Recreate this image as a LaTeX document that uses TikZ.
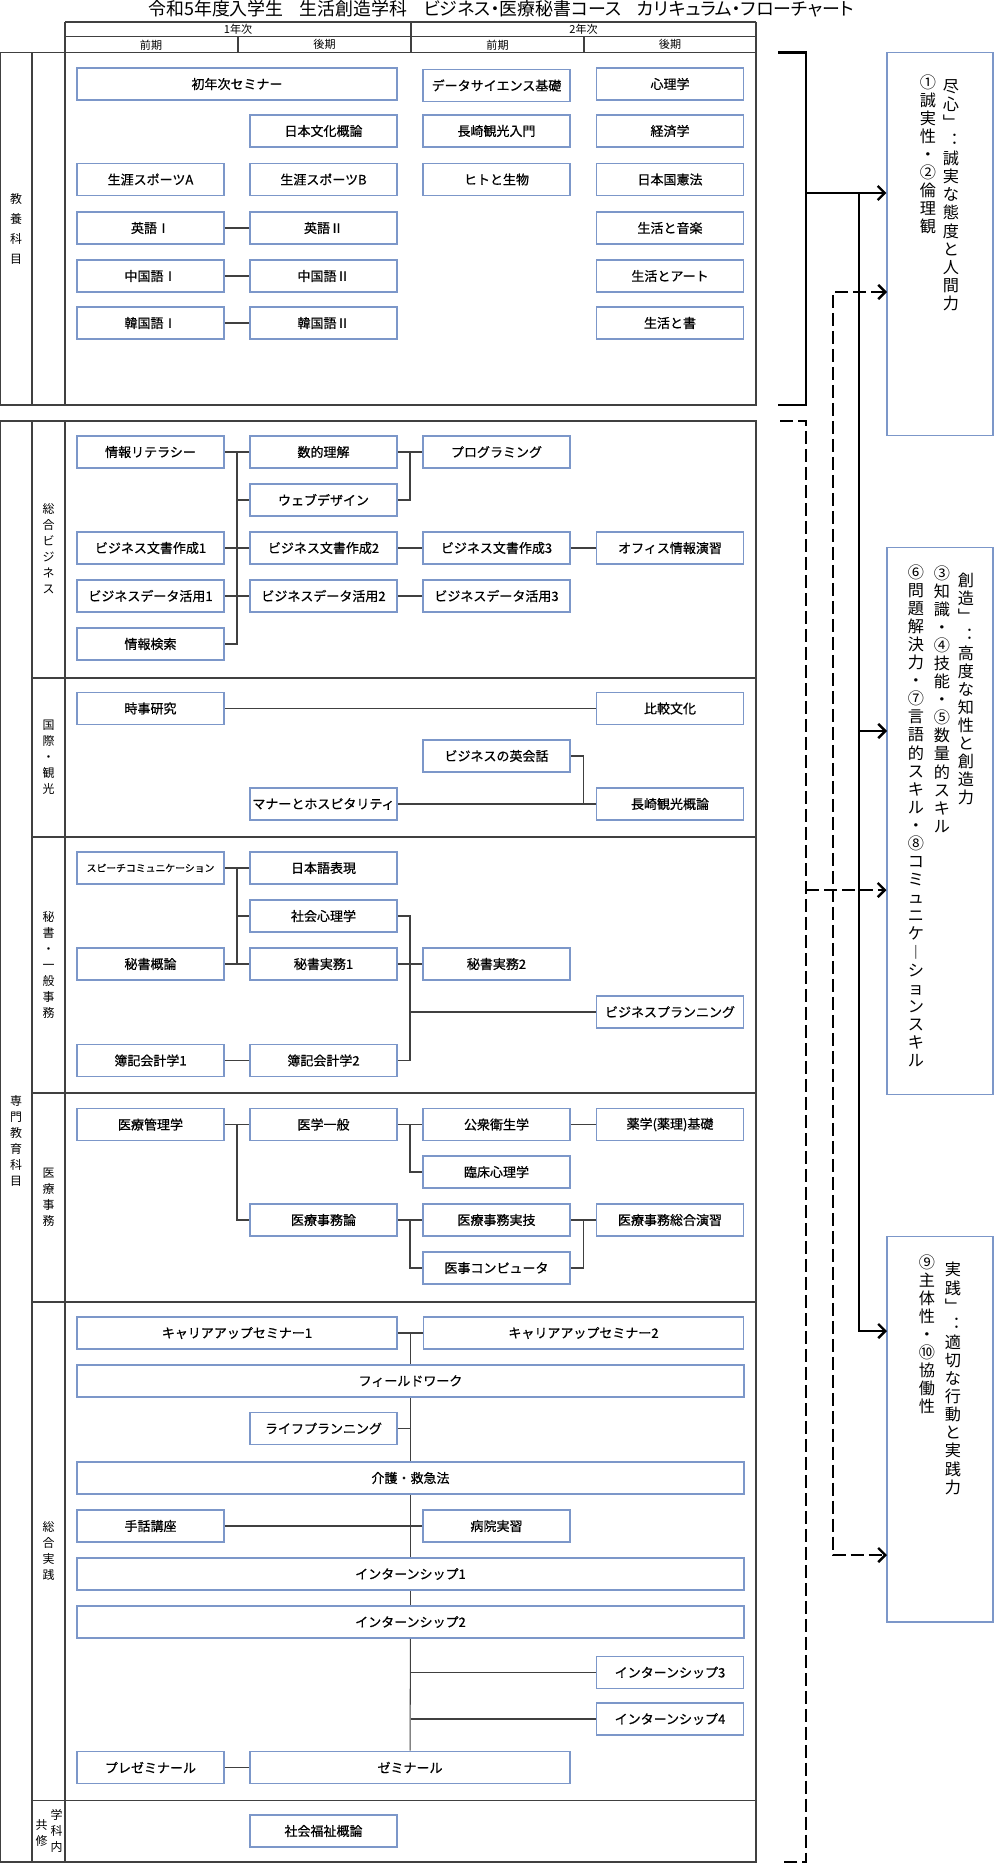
\documentclass[tikz,border=0pt]{standalone}
\usepackage{fontspec}
\setmainfont{Noto Sans CJK JP}
\newfontfamily\titlefont{Noto Sans CJK JP}[RawFeature=+palt]
\newfontfamily\coursefont{Noto Sans CJK JP}[FakeBold=0.7]
\usetikzlibrary{arrows.meta,calc}
\definecolor{boxblue}{RGB}{124,151,201}
\definecolor{rulegray}{RGB}{64,64,64}

\begin{document}
\begin{tikzpicture}[x=0.02cm, y=-0.02cm,
	>={Straight Barb[length=4pt,width=8pt]},
	course/.style={draw=boxblue, line width=0.9pt, minimum width=2.94cm, minimum height=0.64cm, inner sep=0pt, font=\coursefont\fontsize{7.4}{8}\selectfont},
	wide/.style={course, minimum width=6.4cm},
	full/.style={course, minimum width=13.34cm},
	link/.style={draw=black!75, line width=0.6pt},
	frame/.style={draw=rulegray, line width=0.9pt},
	sect/.style={align=center, inner sep=0pt, font=\fontsize{6.8}{9.1}\selectfont},
	hdr/.style={inner sep=0pt, font=\fontsize{6.3}{7}\selectfont},
	goal/.style={draw=boxblue, line width=0.6pt, minimum width=2.12cm, inner sep=0pt},
	goaltext/.style={anchor=north, align=center, inner sep=0pt, font=\fontsize{9.2}{10.3}\selectfont},
	bracket/.style={line width=1.4pt},
	dashline/.style={line width=1.4pt, dash pattern=on 0.26cm off 0.1cm}]
	\useasboundingbox (0,0) rectangle (1000,1875);

	% title and header
	\node[inner sep=0pt, font=\titlefont\fontsize{10.2}{12}\selectfont] (title) at (501,9) {令和5年度入学生\hspace{0.9em}生活創造学科\hspace{0.9em}ビジネス・医療秘書コース\hspace{0.9em}カリキュラム・フローチャート};
	\draw[frame] (65,22) -- (756,22);
	\draw[frame] (65,36.5) -- (756,36.5);
	\draw[frame] (65,22) -- (65,52.7);
	\draw[frame] (411,22) -- (411,52.7);
	\draw[frame] (756,22) -- (756,52.7);
	\draw[frame] (238,36.5) -- (238,52.7);
	\draw[frame] (584,36.5) -- (584,52.7);
	\node[hdr] (y1) at (238,29.5) {1年次};
	\node[hdr] (y2) at (583.5,29.5) {2年次};
	\node[hdr] (y1a) at (151,44.8) {前期};
	\node[hdr] (y1b) at (324.5,44.8) {後期};
	\node[hdr] (y2a) at (497.5,44.8) {前期};
	\node[hdr] (y2b) at (670,44.8) {後期};

	% frames
	\draw[frame] (0.5,52.7) rectangle (756,405);
	\draw[frame] (32,52.7) -- (32,405);
	\draw[frame] (65,52.7) -- (65,405);
	\draw[frame] (0.5,421) rectangle (756,1862);
	\draw[frame] (32,421) -- (32,1862);
	\draw[frame] (65,421) -- (65,1862);
	\draw[frame] (32,678) -- (756,678);
	\draw[frame] (32,837) -- (756,837);
	\draw[frame] (32,1093) -- (756,1093);
	\draw[frame] (32,1302) -- (756,1302);
	\draw[frame] (32,1800.5) -- (756,1800.5);

	\node[sect, font=\fontsize{6.8}{11.4}\selectfont] (lkyoyo) at (16,229) {教\\養\\科\\目};
	\node[sect] (lsenmon) at (16,1141) {専\\門\\教\\育\\科\\目};
	\node[sect] (lbiz) at (48.5,549) {総\\合\\ビ\\ジ\\ネ\\ス};
	\node[sect] (lkokusai) at (48.5,757) {国\\際\\・\\観\\光};
	\node[sect] (lhisho) at (48.5,965) {秘\\書\\・\\一\\般\\事\\務};
	\node[sect] (liryo) at (48.5,1197) {医\\療\\事\\務};
	\node[sect] (ljissen) at (48.5,1551) {総\\合\\実\\践};
	\node[sect] (lgakka) at (56.5,1831) {学\\科\\内};
	\node[sect] (lkyoshu) at (41.5,1833) {共\\修};

	% kyoyo
	\node[wide] (shonen) at (237,84) {初年次セミナー};
	\node[course] (dsci) at (496.5,85.5) {データサイエンス基礎};
	\node[course] (shinri) at (670,84) {心理学};
	\node[course] (bunka) at (323.5,131) {日本文化概論};
	\node[course] (nyumon) at (496.5,131) {長崎観光入門};
	\node[course] (keizai) at (670,131) {経済学};
	\node[course] (sportA) at (150.5,179.5) {生涯スポーツA};
	\node[course] (sportB) at (323.5,179.5) {生涯スポーツB};
	\node[course] (hito) at (496.5,179.5) {ヒトと生物};
	\node[course] (kenpo) at (670,179.5) {日本国憲法};
	\node[course] (eigoI) at (150.5,228) {英語Ⅰ};
	\node[course] (eigoII) at (323.5,228) {英語Ⅱ};
	\node[course] (ongaku) at (670,228) {生活と音楽};
	\node[course] (chugokuI) at (150.5,276) {中国語Ⅰ};
	\node[course] (chugokuII) at (323.5,276) {中国語Ⅱ};
	\node[course] (art) at (670,276) {生活とアート};
	\node[course] (kankokuI) at (150.5,323) {韓国語Ⅰ};
	\node[course] (kankokuII) at (323.5,323) {韓国語Ⅱ};
	\node[course] (sho) at (670,323) {生活と書};
	\draw[link] (eigoI) -- (eigoII);
	\draw[link] (chugokuI) -- (chugokuII);
	\draw[link] (kankokuI) -- (kankokuII);

	% sogo business
	\node[course] (literacy) at (150.5,452) {情報リテラシー};
	\node[course] (suteki) at (323.5,452) {数的理解};
	\node[course] (program) at (496.5,452) {プログラミング};
	\node[course] (web) at (323.5,500) {ウェブデザイン};
	\node[course] (bunsho1) at (150.5,548) {ビジネス文書作成1};
	\node[course] (bunsho2) at (323.5,548) {ビジネス文書作成2};
	\node[course] (bunsho3) at (496.5,548) {ビジネス文書作成3};
	\node[course] (office) at (670,548) {オフィス情報演習};
	\node[course] (katsuyo1) at (150.5,596) {ビジネスデータ活用1};
	\node[course] (katsuyo2) at (323.5,596) {ビジネスデータ活用2};
	\node[course] (katsuyo3) at (496.5,596) {ビジネスデータ活用3};
	\node[course] (kensaku) at (150.5,644) {情報検索};
	\coordinate (busA) at ($(literacy.east)!.5!(suteki.west)$);
	\coordinate (busB) at ($(suteki.east)!.5!(program.west)$);
	\draw[link] (literacy) -- (suteki);
	\draw[link] (busA) |- (kensaku.east);
	\draw[link] (busA |- web) -- (web.west);
	\draw[link] (suteki) -- (program);
	\draw[link] (web.east) -| (busB);
	\draw[link] (bunsho1) -- (bunsho2);
	\draw[link] (bunsho2) -- (bunsho3);
	\draw[link] (bunsho3) -- (office);
	\draw[link] (katsuyo1) -- (katsuyo2);
	\draw[link] (katsuyo2) -- (katsuyo3);

	% kokusai kanko
	\node[course] (jiji) at (150.5,708.5) {時事研究};
	\node[course] (hikaku) at (670,708.5) {比較文化};
	\node[course] (eikaiwa) at (496.5,756) {ビジネスの英会話};
	\node[course] (manner) at (323.5,804) {マナーとホスピタリティ};
	\node[course] (kanko) at (670,804) {長崎観光概論};
	\coordinate (busC) at ($(eikaiwa.east)!.5!(kanko.west)$);
	\draw[link] (jiji) -- (hikaku);
	\draw[link] (manner) -- (kanko);
	\draw[link] (eikaiwa.east) -| (busC |- kanko);

	% hisho ippan jimu
	\node[course, font=\coursefont\fontsize{5.6}{7}\selectfont] (speech) at (150.5,868) {スピーチコミュニケーション};
	\node[course] (nihongo) at (323.5,868) {日本語表現};
	\node[course] (shakai) at (323.5,916) {社会心理学};
	\node[course] (hgairon) at (150.5,964) {秘書概論};
	\node[course] (jitsumu1) at (323.5,964) {秘書実務1};
	\node[course] (jitsumu2) at (496.5,964) {秘書実務2};
	\node[course] (planning) at (670,1012) {ビジネスプランニング};
	\node[course] (boki1) at (150.5,1060.5) {簿記会計学1};
	\node[course] (boki2) at (323.5,1060.5) {簿記会計学2};
	\coordinate (busD) at ($(speech.east)!.5!(nihongo.west)$);
	\coordinate (busE) at ($(jitsumu1.east)!.5!(jitsumu2.west)$);
	\draw[link] (speech) -- (nihongo);
	\draw[link] (busD) -- (busD |- jitsumu1);
	\draw[link] (busD |- shakai) -- (shakai.west);
	\draw[link] (hgairon) -- (jitsumu1);
	\draw[link] (jitsumu1) -- (jitsumu2);
	\draw[link] (shakai.east) -| (busE |- boki2) -- (boki2.east);
	\draw[link] (busE |- planning) -- (planning.west);
	\draw[link] (boki1) -- (boki2);

	% iryo jimu
	\node[course] (kanri) at (150.5,1124.5) {医療管理学};
	\node[course] (igaku) at (323.5,1124.5) {医学一般};
	\node[course] (koshu) at (496.5,1124.5) {公衆衛生学};
	\node[course] (yakugaku) at (670,1124.5) {薬学(薬理)基礎};
	\node[course] (rinsho) at (496.5,1172) {臨床心理学};
	\node[course] (jimuron) at (323.5,1220) {医療事務論};
	\node[course] (jitsugi) at (496.5,1220) {医療事務実技};
	\node[course] (ensyu) at (670,1220) {医療事務総合演習};
	\node[course] (computer) at (496.5,1268) {医事コンピュータ};
	\coordinate (busF) at ($(kanri.east)!.5!(igaku.west)$);
	\coordinate (busG) at ($(igaku.east)!.5!(koshu.west)$);
	\coordinate (busH) at ($(jimuron.east)!.5!(jitsugi.west)$);
	\coordinate (busI) at ($(jitsugi.east)!.5!(ensyu.west)$);
	\draw[link] (kanri) -- (igaku);
	\draw[link] (busF) |- (jimuron.west);
	\draw[link] (igaku) -- (koshu);
	\draw[link] (busG) |- (rinsho.west);
	\draw[link] (koshu) -- (yakugaku);
	\draw[link] (jimuron) -- (jitsugi);
	\draw[link] (busH) |- (computer.west);
	\draw[link] (jitsugi) -- (ensyu);
	\draw[link] (busI) |- (computer.east);

	% sogo jissen
	\node[wide] (career1) at (237,1333) {キャリアアップセミナー1};
	\node[wide] (career2) at (583.5,1333) {キャリアアップセミナー2};
	\node[full] (field) at (410.5,1381) {フィールドワーク};
	\node[course] (life) at (323.5,1428.5) {ライフプランニング};
	\node[full] (kaigo) at (410.5,1478) {介護・救急法};
	\node[course] (shuwa) at (150.5,1526) {手話講座};
	\node[course] (byoin) at (496.5,1526) {病院実習};
	\node[full] (intern1) at (410.5,1574) {インターンシップ1};
	\node[full] (intern2) at (410.5,1622) {インターンシップ2};
	\node[course] (intern3) at (670,1672.5) {インターンシップ3};
	\node[course] (intern4) at (670,1719) {インターンシップ4};
	\node[course] (prezemi) at (150.5,1767.5) {プレゼミナール};
	\node[wide] (zemi) at (410,1767.5) {ゼミナール};
	\node[course] (fukushi) at (323.5,1831) {社会福祉概論};
	\coordinate (busJ) at ($(career1.east)!.5!(career2.west)$);
	\draw[link] (career1) -- (career2);
	\draw[link] (busJ) -- (busJ |- field.north);
	\draw[link] (field) -- (kaigo);
	\draw[link] (life.east) -- (life.east -| field);
	\draw[link] (kaigo) -- (intern1);
	\draw[link] (shuwa) -- (byoin);
	\draw[link] (intern1) -- (intern2);
	\draw[link] (intern2) -- (zemi);
	\draw[link] (intern2 |- intern3) -- (intern3.west);
	\draw[link] (intern2 |- intern4) -- (intern4.west);
	\draw[link] (prezemi) -- (zemi);

	% goals
	\node[goal, minimum height=7.65cm] (jinshin) at (940,243.9) {};
	\node[goal, minimum height=10.95cm] (sozo) at (940,821) {};
	\node[goal, minimum height=7.72cm] (jissen) at (940,1429) {};
	\node[goaltext] (jinshinA) at (951,79) {尽\\心\\﹂\\︓\\誠\\実\\な\\態\\度\\と\\人\\間\\力};
	\node[goaltext] (jinshinB) at (928,74) {①\\誠\\実\\性\\・\\②\\倫\\理\\観};
	\node[goaltext] (sozoA) at (966,573) {創\\造\\﹂\\︓\\高\\度\\な\\知\\性\\と\\創\\造\\力};
	\node[goaltext] (sozoB) at (942,565) {③\\知\\識\\・\\④\\技\\能\\・\\⑤\\数\\量\\的\\ス\\キ\\ル};
	\node[goaltext] (sozoC) at (916,564) {⑥\\問\\題\\解\\決\\力\\・\\⑦\\言\\語\\的\\ス\\キ\\ル\\・\\⑧\\コ\\ミ\\ュ\\ニ\\ケ\\︱\\シ\\ョ\\ン\\ス\\キ\\ル};
	\node[goaltext] (jissenA) at (953,1262) {実\\践\\﹂\\︓\\適\\切\\な\\行\\動\\と\\実\\践\\力};
	\node[goaltext] (jissenB) at (927,1254) {⑨\\主\\体\\性\\・\\⑩\\協\\働\\性};

	% kyoyo -> goals
	\draw[bracket] (778,52.7) -- (806,52.7) -- (806,405) -- (778,405);
	\coordinate (kyoyoOut) at (806,193);
	\coordinate (solidTop) at (859,193);
	\coordinate (s2) at (887,731);
	\coordinate (s3) at (887,1331);
	\draw[bracket,->] (kyoyoOut) -- (kyoyoOut -| jinshin.west);
	\draw[bracket,->] (solidTop) |- (s3);
	\draw[bracket,->] (solidTop |- s2) -- (s2);

	% senmon -> goals
	\draw[dashline] (780,421) -- (806,421) -- (806,1862) -- (780,1862);
	\coordinate (senmonOut) at (806,890);
	\coordinate (dashTop) at (833,292);
	\coordinate (d1) at (887,292);
	\coordinate (d3) at (887,1555);
	\draw[dashline,->] (senmonOut) -- (senmonOut -| sozo.west);
	\draw[dashline,<->] (d1) -| (dashTop |- d3) -- (d3);
\end{tikzpicture}
\end{document}
